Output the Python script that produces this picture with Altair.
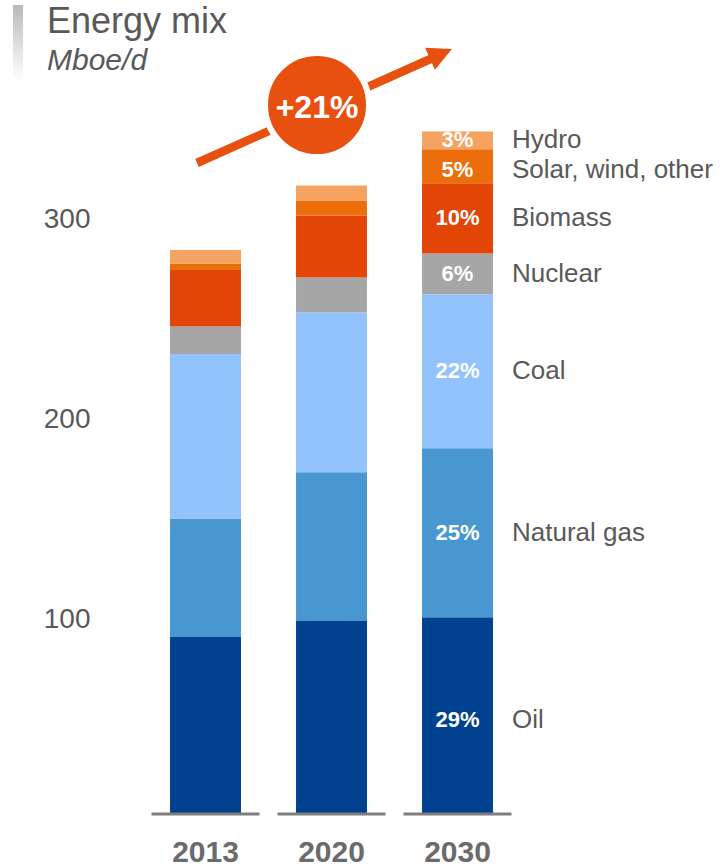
import altair as alt
import pandas as pd

# ---------------- data ----------------
years = ["2013", "2020", "2030"]
sources = ["Oil", "Natural gas", "Coal", "Nuclear", "Biomass", "Solar, wind, other", "Hydro"]
oil = [88.5, 96.5, 98.4]
natural_gas = [59.3, 74.4, 84.5]
coal = [82.2, 79.9, 77.0]
nuclear = [13.7, 17.5, 20.3]
biomass = [28.3, 30.9, 35.2]
solar_wind_other = [3.3, 7.5, 17.0]
hydro = [6.7, 7.5, 8.8]
share_2030 = ["29%", "25%", "22%", "6%", "10%", "5%", "3%"]
y_ticks = [100, 200, 300]
growth_label = "+21%"

colors = ["#00428F", "#4897D1", "#93C3FC", "#A6A6A6", "#E24505", "#EC6E0B", "#F6A261"]
FONT = "Liberation Sans"
ORANGE = "#E8500F"

series = [oil, natural_gas, coal, nuclear, biomass, solar_wind_other, hydro]
rows = []
for si, (src, vals) in enumerate(zip(sources, series)):
    for yi, yr in enumerate(years):
        rows.append({"year": yr, "source": src, "value": vals[yi], "ord": si,
                     "pct": share_2030[si] if yr == "2030" else ""})
df = pd.DataFrame(rows)

# annotation geometry (category units on x, Mboe/d on y)
arrow_df = pd.DataFrame({"ax": [0.4325, 2.321], "ay": [325.5, 378.5], "i": [0, 1]})
head_df = pd.DataFrame({"ax": [2.369], "ay": [380.05]})
badge_df = pd.DataFrame({"ax": [1.385], "ay": [354.5], "label": [growth_label]})
one_df = pd.DataFrame({"k": [0]})

W, H = 378, 700
yscale = alt.Scale(domain=[0, 350], nice=False, zero=True)
xscale = alt.Scale(domain=years, paddingInner=0.437, paddingOuter=0.2185)

x_axis = alt.Axis(title=None, labelFont=FONT, labelFontSize=30, labelFontWeight="bold",
                  labelColor="#6B6B6B", labelPadding=47, labelBaseline="alphabetic",
                  domain=False, ticks=False, tickSize=0, labelAngle=0, grid=False)
y_axis = alt.Axis(title=None, values=y_ticks, labelFont=FONT, labelFontSize=28,
                  labelColor="#595959", labelPadding=52.5, labelOffset=5,
                  domain=False, ticks=False, tickSize=0, grid=False, labelOverlap=False)

base = alt.Chart(df).transform_stack(
    stack="value", groupby=["year"], as_=["v0", "v1"],
    sort=[alt.SortField("ord", order="ascending")]
).transform_calculate(
    mid="(datum.v0 + datum.v1) / 2 - ((datum.source == 'Solar, wind, other' || datum.source == 'Oil') ? 2 : 0)"
)

bars = base.mark_bar().encode(
    x=alt.X("year:N", scale=xscale, axis=x_axis),
    y=alt.Y("v0:Q", scale=yscale, axis=y_axis),
    y2="v1:Q",
    color=alt.Color("source:N", scale=alt.Scale(domain=sources, range=colors), legend=None),
)

pct = base.transform_filter("datum.year == '2030'").mark_text(
    font=FONT, fontSize=22, fontWeight="bold", color="white", baseline="middle", align="center"
).encode(x=alt.X("year:N", scale=xscale, axis=x_axis),
         y=alt.Y("mid:Q", scale=yscale, axis=y_axis), text="pct:N")

names = base.transform_filter("datum.year == '2030'").mark_text(
    font=FONT, fontSize=26, color="#595959", baseline="middle", align="left", dx=54.5
).encode(x=alt.X("year:N", scale=xscale, axis=x_axis),
         y=alt.Y("mid:Q", scale=yscale, axis=y_axis), text="source:N")

baseline = alt.Chart(pd.DataFrame({"year": years})).mark_tick(
    size=108, thickness=3, color="#7F7F7F", opacity=1
).encode(x=alt.X("year:N", scale=xscale, axis=x_axis),
         y=alt.Y("z:Q", scale=yscale, axis=y_axis)).transform_calculate(z="0")

main = alt.layer(bars, baseline, pct, names)

ax_scale = alt.Scale(domain=[0, 3], nice=False, zero=False)
ay_scale = alt.Scale(domain=[0, 350], nice=False, zero=False)

arrow = alt.Chart(arrow_df).mark_line(color=ORANGE, strokeWidth=8.5, strokeCap="butt").encode(
    x=alt.X("ax:Q", scale=ax_scale, axis=None),
    y=alt.Y("ay:Q", scale=ay_scale, axis=None),
    order="i:Q",
)
head = alt.Chart(head_df).mark_point(
    shape="M1,0L-1,-1L-1,1Z", filled=True, size=576, angle=336, color=ORANGE, opacity=1
).encode(x=alt.X("ax:Q", scale=ax_scale, axis=None), y=alt.Y("ay:Q", scale=ay_scale, axis=None))
circle = alt.Chart(badge_df).mark_point(
    shape="circle", filled=True, size=10816, fill=ORANGE, stroke="white", strokeWidth=6,
    opacity=1, strokeOpacity=1
).encode(x=alt.X("ax:Q", scale=ax_scale, axis=None), y=alt.Y("ay:Q", scale=ay_scale, axis=None))
badge_text = alt.Chart(badge_df).mark_text(
    font=FONT, fontSize=32, fontWeight="bold", color="white", align="center", baseline="middle", dy=3
).encode(x=alt.X("ax:Q", scale=ax_scale, axis=None), y=alt.Y("ay:Q", scale=ay_scale, axis=None),
         text="label:N")

grad_bar = alt.Chart(one_df).mark_rect(
    color=alt.Gradient(gradient="linear",
                       stops=[alt.GradientStop(color="#B9B9B9", offset=0),
                              alt.GradientStop(color="#FFFFFF", offset=1)],
                       x1=0, x2=0, y1=0, y2=1)
).encode(x=alt.value(-129.5), x2=alt.value(-119.5), y=alt.value(-109), y2=alt.value(-34))
title = alt.Chart(one_df).mark_text(
    text="Energy mix", font=FONT, fontSize=36, color="#595959", align="left", baseline="alphabetic"
).encode(x=alt.value(-95.5), y=alt.value(-81))
subtitle = alt.Chart(one_df).mark_text(
    text="Mboe/d", font=FONT, fontSize=30, fontStyle="italic", color="#595959",
    align="left", baseline="alphabetic"
).encode(x=alt.value(-95.5), y=alt.value(-44))

annot = alt.layer(arrow, head, circle, badge_text, grad_bar, title, subtitle)

chart = alt.layer(main, annot).resolve_scale(x="independent", y="independent").properties(
    width=W, height=H,
    autosize=alt.AutoSizeParams(type="none"),
    padding={"left": 142.5, "top": 114, "right": 204.5, "bottom": 53},
    background="white",
).configure_view(stroke=None)

chart.save("out.html", embed_options={"renderer": "svg", "actions": False})
